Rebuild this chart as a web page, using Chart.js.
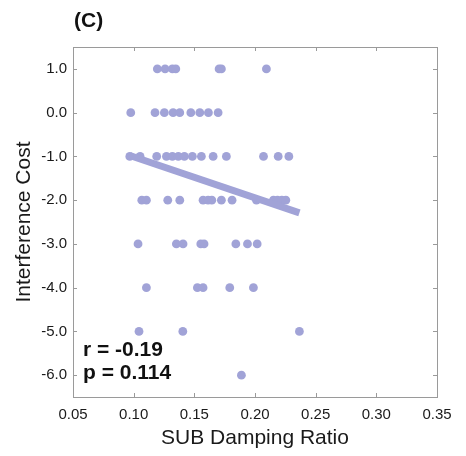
<!DOCTYPE html>
<html>
<head>
<meta charset="utf-8">
<script src="https://cdn.jsdelivr.net/npm/chart.js@4/dist/chart.umd.min.js"></script>
<style>
  body { margin: 0; background: #fff; }
  #wrap { width: 466px; height: 456px; }
</style>
</head>
<body>
<div id="wrap"><canvas id="chart" width="466" height="456"></canvas></div>
<script>
// Données
const costLevels = [1, 0, -1, -2, -3, -4, -5, -6];
const ratiosByCost = [
    [0.1195, 0.1259, 0.1319, 0.1347, 0.1704, 0.1723, 0.2094],
    [0.0976, 0.1176, 0.1253, 0.1325, 0.1380, 0.1471, 0.1545, 0.1616, 0.1696],
    [0.0968, 0.1053, 0.1190, 0.1270, 0.1319, 0.1368, 0.1418, 0.1484, 0.1558, 0.1655, 0.1764, 0.2070, 0.2191, 0.2279],
    [0.1067, 0.1105, 0.1281, 0.1380, 0.1572, 0.1613, 0.1644, 0.1723, 0.1811, 0.2012, 0.2152, 0.2185, 0.2221, 0.2254],
    [0.1036, 0.1352, 0.1407, 0.1553, 0.1580, 0.1842, 0.1938, 0.2018],
    [0.1105, 0.1525, 0.1572, 0.1792, 0.1987],
    [0.1044, 0.1405, 0.2366],
    [0.1888]
];
// Droite de régression (extrémités)
const fitX = [0.0968, 0.2366];
const fitY = [-0.98, -2.29];
const xTicks = [0.05, 0.10, 0.15, 0.20, 0.25, 0.30, 0.35];
const yTicks = [1, 0, -1, -2, -3, -4, -5, -6];
const statsText = ['r = -0.19', 'p = 0.114'];
const panelLabel = '(C)';

const dotColor = '#a1a3d7';

const points = [];
costLevels.forEach((c, i) => {
    ratiosByCost[i].forEach(r => points.push({ x: r, y: c }));
});
const fitLine = fitX.map((x, i) => ({ x: x, y: fitY[i] }));

// Cadre, graduations vers l'intérieur et textes
const framePlugin = {
    id: 'frame',
    afterDraw(chart) {
        const { ctx, chartArea: a, scales } = chart;
        ctx.save();
        ctx.strokeStyle = '#9a9a9a';
        ctx.lineWidth = 1;
        ctx.strokeRect(Math.round(a.left) + 0.5, Math.round(a.top) + 0.5,
            Math.round(a.right - a.left), Math.round(a.bottom - a.top));
        const len = 4;
        ctx.beginPath();
        scales.x.ticks.forEach((t, i) => {
            const px = Math.round(scales.x.getPixelForTick(i)) + 0.5;
            ctx.moveTo(px, a.bottom); ctx.lineTo(px, a.bottom - len);
            ctx.moveTo(px, a.top); ctx.lineTo(px, a.top + len);
        });
        scales.y.ticks.forEach((t, i) => {
            const py = Math.round(scales.y.getPixelForTick(i)) + 0.5;
            ctx.moveTo(a.left, py); ctx.lineTo(a.left + len, py);
            ctx.moveTo(a.right, py); ctx.lineTo(a.right - len, py);
        });
        ctx.stroke();

        ctx.fillStyle = '#111';
        ctx.textBaseline = 'alphabetic';
        ctx.font = 'bold 21px "Liberation Sans", Arial, sans-serif';
        ctx.fillText(panelLabel, 74, 27);
        ctx.fillText(statsText[0], 83, 356);
        ctx.fillText(statsText[1], 83, 379);
        ctx.restore();
    }
};

new Chart(document.getElementById('chart'), {
    type: 'scatter',
    data: {
        datasets: [
            {
                type: 'line',
                data: fitLine,
                borderColor: dotColor,
                borderWidth: 7,
                borderCapStyle: 'butt',
                pointRadius: 0,
                fill: false,
                order: 0
            },
            {
                data: points,
                backgroundColor: dotColor,
                borderWidth: 0,
                pointRadius: 4.4,
                pointHoverRadius: 4.4,
                order: 1
            }
        ]
    },
    options: {
        responsive: false,
        animation: false,
        devicePixelRatio: 1,
        layout: { padding: { top: 47, right: 29, left: 0, bottom: 0 } },
        plugins: { legend: { display: false }, tooltip: { enabled: false } },
        scales: {
            x: {
                type: 'linear',
                min: 0.05,
                max: 0.35,
                afterFit: s => { s.height = 59; },
                afterBuildTicks: s => { s.ticks = xTicks.map(v => ({ value: v })); },
                grid: { display: false, drawTicks: false },
                border: { display: false },
                ticks: {
                    color: '#1a1a1a',
                    padding: 9,
                    maxRotation: 0,
                    font: { size: 15, family: '"Liberation Sans", Arial, sans-serif' },
                    callback: v => v.toFixed(2)
                },
                title: {
                    display: true,
                    text: 'SUB Damping Ratio',
                    color: '#1a1a1a',
                    padding: { top: 0, bottom: 5 },
                    font: { size: 21, family: '"Liberation Sans", Arial, sans-serif' }
                }
            },
            y: {
                type: 'linear',
                min: -6.5,
                max: 1.5,
                afterFit: s => { s.width = 73; },
                afterBuildTicks: s => { s.ticks = yTicks.map(v => ({ value: v })); },
                grid: { display: false, drawTicks: false },
                border: { display: false },
                ticks: {
                    color: '#1a1a1a',
                    padding: 6,
                    font: { size: 15, family: '"Liberation Sans", Arial, sans-serif' },
                    callback: v => v.toFixed(1)
                },
                title: {
                    display: true,
                    text: 'Interference Cost',
                    color: '#1a1a1a',
                    padding: { top: 12, bottom: 0 },
                    font: { size: 21, family: '"Liberation Sans", Arial, sans-serif' }
                }
            }
        }
    },
    plugins: [framePlugin]
});
</script>
</body>
</html>
